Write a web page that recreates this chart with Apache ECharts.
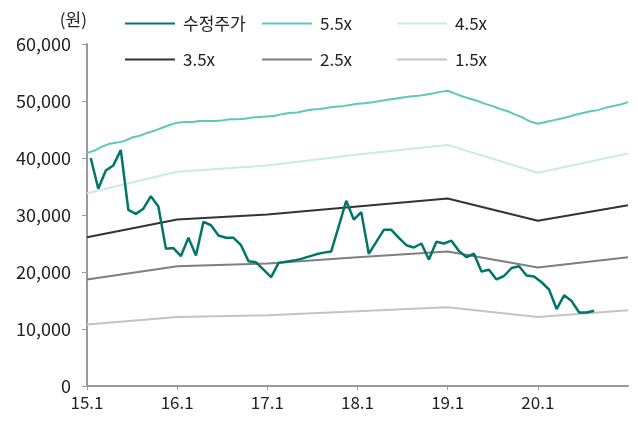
<!DOCTYPE html>
<html>
<head>
<meta charset="utf-8">
<script src="https://cdn.jsdelivr.net/npm/echarts@6/dist/echarts.min.js"></script>
<style>
html, body { margin: 0; padding: 0; background: #fff; }
#chart { width: 638px; height: 423px; }
</style>
</head>
<body>
<div id="chart"></div>
<script>
// 월 단위 (0 = 2015.1 시작), 밴드는 연초 값
var yearStarts = [0, 12, 24, 36, 48, 60, 72];
var yearLabels = ['15.1', '16.1', '17.1', '18.1', '19.1', '20.1', '21.1'];

// 수정주가 (월 중순, 15.1 ~ 20.8)
var price = [40000, 34600, 37800, 38700, 41400, 30900, 30200, 31100, 33300, 31500, 24100, 24200,
	22800, 26000, 22900, 28800, 28200, 26400, 26000, 26000, 24700, 21900, 21700, 20400,
	19100, 21600, 21800, 22000, 22300, 22700, 23100, 23400, 23600, 28000, 32500, 29200,
	30500, 23200, 25300, 27400, 27400, 26000, 24700, 24300, 25000, 22200, 25300, 25000,
	25500, 23700, 22600, 23200, 20100, 20400, 18700, 19300, 20700, 21000, 19400, 19200,
	18200, 16900, 13500, 15900, 14900, 12900, 12900, 13200];

// 5.5x 밴드 (월초, 15.1 ~ 21.1)
var band55 = [40900, 41300, 42000, 42500, 42700, 43000, 43600, 43900, 44400, 44800, 45300, 45800,
	46200, 46300, 46300, 46500, 46500, 46500, 46600, 46800, 46800, 46900, 47100, 47200,
	47300, 47400, 47700, 47900, 48000, 48300, 48500, 48600, 48800, 49000, 49100, 49300,
	49500, 49600, 49800, 50000, 50200, 50400, 50600, 50800, 50900, 51100, 51300, 51600,
	51800, 51300, 50800, 50400, 50000, 49500, 49100, 48600, 48200, 47600, 47100, 46400,
	46000, 46300, 46600, 46900, 47200, 47600, 47900, 48200, 48400, 48800, 49100, 49400, 49800];

var band45 = [33800, 37600, 38700, 40600, 42300, 37400, 40800];
var band35 = [26100, 29200, 30100, 31500, 32900, 29000, 31700];
var band25 = [18700, 21000, 21500, 22600, 23600, 20800, 22600];
var band15 = [10800, 12100, 12400, 13100, 13800, 12100, 13300];

var FONT = '"Noto Sans CJK KR", "Noto Sans", sans-serif';

function monthly(arr, offset) {
	return arr.map(function(v, i) { return [i + offset, v]; });
}
function yearly(arr) {
	return arr.map(function(v, i) { return [yearStarts[i], v]; });
}

function bandSeries(name, data, color) {
	return {
		name: name,
		type: 'line',
		data: data,
		symbol: 'none',
		lineStyle: { color: color, width: 2 },
		itemStyle: { color: color }
	};
}

function legendAt(name, left, top) {
	return {
		data: [name],
		left: left,
		top: top,
		icon: 'rect',
		itemWidth: 50,
		itemHeight: 2,
		textStyle: { fontFamily: FONT, fontSize: 17, color: '#222', padding: [0, 0, 0, 3] }
	};
}

var chart = echarts.init(document.getElementById('chart'));
chart.setOption({
	animation: false,
	grid: { left: 87, right: 10, top: 44, bottom: 37 },
	legend: [
		legendAt('수정주가', 120, 10),
		legendAt('5.5x', 257, 10),
		legendAt('4.5x', 392, 10),
		legendAt('3.5x', 120, 46),
		legendAt('2.5x', 257, 46),
		legendAt('1.5x', 392, 46)
	],
	xAxis: {
		type: 'value',
		min: 0,
		max: 72,
		interval: 12,
		splitLine: { show: false },
		axisLine: { lineStyle: { color: '#9a9a9a', width: 2 } },
		axisTick: { length: 4, lineStyle: { color: '#9a9a9a', width: 1 } },
		axisLabel: {
			fontFamily: FONT, fontSize: 17, color: '#222', margin: 8,
			showMaxLabel: false,
			formatter: function(v) { return yearLabels[v / 12]; }
		}
	},
	yAxis: {
		type: 'value',
		min: 0,
		max: 60000,
		interval: 10000,
		name: '(원)',
		nameLocation: 'end',
		nameGap: 16,
		nameTextStyle: { fontFamily: FONT, fontSize: 17, color: '#222', align: 'right' },
		splitLine: { show: false },
		axisLine: { show: true, lineStyle: { color: '#9a9a9a', width: 2 } },
		axisTick: { show: true, length: 5, lineStyle: { color: '#9a9a9a', width: 1 } },
		axisLabel: { fontFamily: FONT, fontSize: 18, color: '#222', margin: 16 }
	},
	series: [
		bandSeries('5.5x', monthly(band55, 0), '#5ec8b9'),
		bandSeries('4.5x', yearly(band45), '#c6ece5'),
		bandSeries('3.5x', yearly(band35), '#333333'),
		bandSeries('2.5x', yearly(band25), '#7f7f7f'),
		bandSeries('1.5x', yearly(band15), '#c4c4c4'),
		{
			name: '수정주가',
			type: 'line',
			data: monthly(price, 0.5),
			symbol: 'none',
			lineStyle: { color: '#00766b', width: 2.5 },
			itemStyle: { color: '#00766b' }
		}
	]
});
</script>
</body>
</html>
